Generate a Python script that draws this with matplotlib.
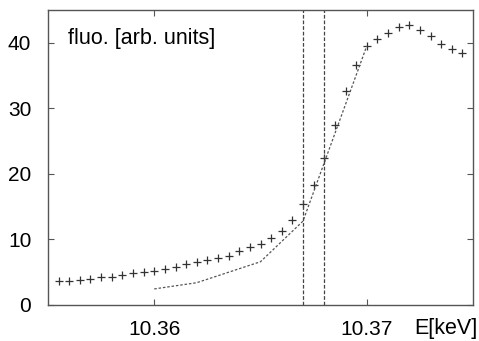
import matplotlib.pyplot as plt
import numpy as np

plt.rcParams['font.family'] = ['Liberation Sans', 'DejaVu Sans']

# measured fluorescence, one point every 0.5 eV
energy = 10.3555 + 0.0005 * np.arange(39)
fluo = [3.6, 3.6, 3.8, 4.0, 4.3, 4.3, 4.6, 4.9, 5.1, 5.2,
        5.5, 5.8, 6.2, 6.5, 6.8, 7.2, 7.5, 8.2, 8.9, 9.3,
        10.2, 11.3, 13.0, 15.4, 18.3, 22.4, 27.5, 32.6, 36.6, 39.5,
        40.6, 41.5, 42.4, 42.7, 42.0, 41.1, 39.8, 39.1, 38.5]

# calculated curve (dotted)
calc_e = [10.360, 10.362, 10.365, 10.367, 10.370]
calc_v = [2.45, 3.4, 6.6, 12.8, 39.5]

# vertical markers
vlines = [10.367, 10.368]

xticks = [10.36, 10.37]
yticks = [0, 10, 20, 30, 40]

fig = plt.figure(figsize=(4.79, 3.41), dpi=100)
ax = fig.add_axes([0.1002, 0.1056, 0.8873, 0.8651])

ax.plot(energy, fluo, linestyle='none', marker='+', markersize=5.5,
        markeredgewidth=0.9, color='#333333')
ax.plot(calc_e, calc_v, linestyle=(0, (2, 1.5)), linewidth=0.9, color='#555555')
for v in vlines:
    ax.axvline(v, linestyle=(0, (3, 1.5)), linewidth=0.9, color='#444444')

ax.set_xlim(10.355, 10.375)
ax.set_ylim(0, 45)
ax.set_xticks(xticks)
ax.set_xticklabels(['10.36', '10.37'])
ax.set_yticks(yticks)
ax.tick_params(direction='in', length=4, width=0.8, labelsize=15,
               top=True, right=True, colors='#555555', labelcolor='black')
ax.tick_params(axis='y', pad=12)
ax.tick_params(axis='x', pad=11)
for s in ax.spines.values():
    s.set_color('#555555')
    s.set_linewidth(1.0)

ax.text(0.046, 0.905, 'fluo. [arb. units]', transform=ax.transAxes,
        fontsize=15.5, va='center', ha='left')
ax.text(1.01, -0.08, 'E[keV]', transform=ax.transAxes,
        fontsize=15.5, va='center', ha='right')

fig.savefig('out.png', dpi=100)
